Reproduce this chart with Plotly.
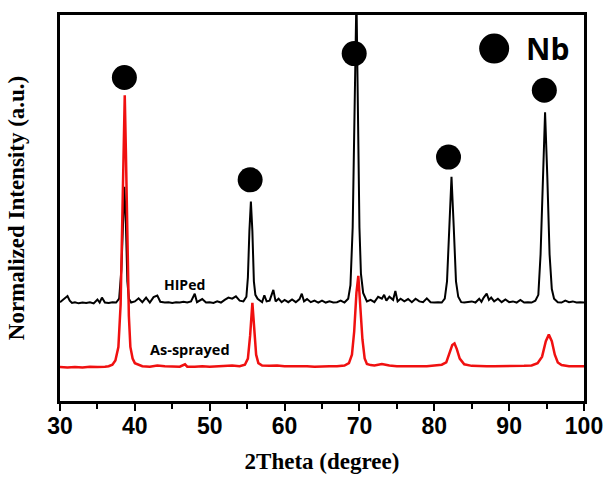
import plotly.graph_objects as go

# HIPed (black) pattern, 2theta and normalized intensity
hip_x = [30.0, 30.5, 31.0, 31.3, 31.6, 32.0, 32.5, 33.0, 33.5, 34.0, 34.5, 35.0, 35.3, 35.6, 36.0, 36.5, 37.0, 37.5, 37.9,
         38.2, 38.4, 38.6, 38.8, 39.0, 39.2, 39.5, 40.0, 40.5, 41.0, 41.5, 42.0, 42.5, 43.0, 43.4, 44.0, 44.5, 45.0,
         45.5, 46.0, 46.5, 47.0, 47.5, 48.0, 48.3, 49.0, 49.5, 50.0, 50.5, 51.0, 51.5, 52.0, 52.5, 53.0, 53.5, 54.0,
         54.5, 54.9, 55.1, 55.3, 55.5, 55.7, 55.9, 56.1, 56.4, 57.0, 57.3, 57.6, 58.0, 58.5, 58.8, 59.2, 59.6, 60.0,
         60.5, 61.0, 61.5, 62.0, 62.3, 62.6, 63.0, 63.5, 64.0, 64.5, 65.0, 65.5, 66.0, 66.5, 67.0, 67.5, 68.0, 68.5,
         68.8, 69.1, 69.3, 69.6, 69.8, 70.0, 70.2, 70.5, 71.0, 71.5, 72.0, 72.5, 73.0, 73.3, 73.6, 74.0, 74.5, 74.8,
         75.1, 75.5, 76.0, 76.5, 77.0, 77.5, 78.0, 78.5, 79.0, 79.5, 80.0, 80.5, 81.0, 81.4, 81.7, 82.0, 82.3, 82.6,
         82.9, 83.2, 83.6, 84.0, 84.5, 85.0, 85.5, 86.0, 86.3, 86.6, 87.0, 87.3, 87.6, 88.0, 88.5, 89.0, 89.5, 90.0,
         90.5, 91.0, 91.5, 92.0, 92.5, 93.0, 93.5, 93.9, 94.2, 94.5, 94.8, 95.1, 95.4, 95.7, 96.0, 96.5, 97.0, 97.5,
         98.0, 98.5, 99.0, 99.5, 100.0]
hip_y = [25.6, 26.5, 27.2, 26.0, 25.4, 25.6, 25.3, 25.5, 25.4, 25.6, 25.3, 26.3, 25.5, 26.8, 25.5, 25.4, 25.6, 25.5, 26.5,
         34.0, 48.0, 55.5, 46.0, 31.0, 26.5, 25.5, 25.8, 26.6, 25.6, 26.8, 25.5, 26.9, 27.3, 25.7, 25.5, 25.6, 25.4,
         25.6, 25.5, 25.7, 25.5, 25.8, 27.8, 25.6, 26.4, 25.5, 25.6, 25.4, 25.8, 25.5, 26.2, 26.8, 26.5, 27.1, 26.0,
         25.8, 27.0, 32.0, 44.0, 51.7, 44.0, 31.0, 27.5, 26.5, 25.6, 27.4, 25.8, 26.0, 28.8, 25.8, 26.5, 25.6, 26.2,
         25.6, 26.3, 25.6, 26.4, 27.8, 25.8, 26.4, 25.6, 26.0, 25.5, 26.0, 25.5, 25.8, 25.5, 25.6, 26.0, 25.5, 26.5,
         30.0, 45.0, 75.0, 105.0, 75.0, 45.0, 33.0, 28.0, 25.8, 26.2, 25.6, 27.0, 26.5, 27.5, 26.0, 27.0, 26.2, 28.5,
         25.8, 26.5, 25.8, 26.4, 25.6, 26.5, 25.8, 25.6, 26.6, 25.6, 25.5, 25.6, 25.5, 26.5, 31.0, 45.0, 58.1, 45.0,
         31.0, 27.0, 25.6, 25.5, 25.6, 25.8, 25.5, 26.5, 25.7, 26.8, 27.8, 26.2, 26.8, 25.8, 26.5, 25.6, 26.3, 25.6,
         25.8, 25.5, 26.2, 25.5, 25.6, 25.5, 26.0, 27.5, 38.0, 60.0, 74.8, 58.0, 38.0, 29.0, 26.5, 25.6, 25.5, 26.0,
         25.6, 25.8, 25.5, 25.6, 25.5]

# As-sprayed (red) pattern
asp_x = [30, 31, 32, 33, 34, 35, 36, 36.5, 37.0, 37.4, 37.8, 38.1, 38.3, 38.5, 38.65, 38.8, 39.0, 39.2, 39.4, 39.7,
         40.0, 40.5, 41, 42, 43, 44, 45, 46, 46.7, 47, 48, 49, 50, 51, 52, 53, 54, 54.7, 55.1, 55.4, 55.7, 55.95,
         56.2, 56.5, 57, 58, 59, 60, 61, 62, 63, 64, 65, 66, 67, 68, 68.6, 69.0, 69.3, 69.6, 69.85, 70.1, 70.4,
         70.7, 71.0, 71.5, 72, 73, 74, 75, 76, 77, 78, 79, 80, 81, 81.6, 82.1, 82.4, 82.7, 83.0, 83.4, 84, 85, 86,
         87, 88, 89, 90, 91, 92, 93, 93.8, 94.4, 94.9, 95.3, 95.7, 96.1, 96.5, 97, 98, 99, 100]
asp_y = [8.8, 8.7, 8.8, 8.7, 8.9, 8.8, 8.9, 9.0, 9.4, 10.5, 14.0, 25.0, 45.0, 70.0, 79.2, 65.0, 40.0, 22.0, 14.0, 11.0,
         9.8, 9.3, 9.0, 8.9, 9.2, 9.0, 8.9, 8.9, 9.5, 8.9, 8.9, 9.0, 8.9, 9.0, 9.1, 9.2, 9.0, 9.4, 11.0, 17.0, 25.4, 18.0,
         12.0, 9.8, 9.2, 9.1, 9.2, 9.0, 9.0, 9.1, 9.0, 8.9, 9.0, 9.0, 9.0, 9.2, 9.8, 12.0, 18.0, 28.0, 32.4, 26.0, 16.0,
         11.0, 9.6, 9.3, 9.2, 9.6, 9.2, 9.0, 9.0, 9.0, 9.1, 9.0, 9.2, 9.4, 10.0, 12.5, 14.5, 14.9, 13.5, 11.0, 9.5, 9.1, 9.0,
         9.0, 9.0, 9.0, 9.0, 9.0, 9.1, 9.2, 9.8, 11.5, 15.5, 17.2, 15.5, 12.0, 10.0, 9.3, 9.0, 9.0, 9.0]

# Nb peak markers
nb_x = [38.6, 55.4, 69.3, 81.9, 94.7]
nb_y = [83.8, 57.3, 90.0, 63.2, 80.5]

x_ticks = [30, 40, 50, 60, 70, 80, 90, 100]

fig = go.Figure()
fig.add_trace(go.Scatter(x=hip_x, y=hip_y, mode="lines", line=dict(color="black", width=2), showlegend=False))
fig.add_trace(go.Scatter(x=asp_x, y=asp_y, mode="lines", line=dict(color="#f01010", width=2.5), showlegend=False))
fig.add_trace(go.Scatter(x=nb_x, y=nb_y, mode="markers", marker=dict(color="black", size=25), showlegend=False))
fig.add_trace(go.Scatter(x=[88.0], y=[91.3], mode="markers", marker=dict(color="black", size=30),
                         showlegend=False, cliponaxis=False))

fig.add_annotation(x=95.1, y=91.3, text="<b>Nb</b>", showarrow=False,
                   font=dict(family="Open Sans", size=30, color="black"))
fig.add_annotation(x=46.6, y=30.3, text="<b>HIPed</b>", showarrow=False,
                   font=dict(family="Open Sans", size=14, color="black"))
fig.add_annotation(x=47.3, y=13.4, text="<b>As-sprayed</b>", showarrow=False,
                   font=dict(family="Open Sans", size=14.5, color="black"))

fig.update_layout(
    width=615, height=486,
    margin=dict(l=60, r=28, t=12, b=85),
    plot_bgcolor="white", paper_bgcolor="white",
)
fig.update_xaxes(
    range=[30, 100], tickvals=x_ticks, ticktext=[str(v) for v in x_ticks],
    showline=True, linecolor="black", linewidth=3, mirror=True,
    ticks="outside", ticklen=7, tickwidth=2, tickcolor="black", ticklabelstandoff=-5,
    minor=dict(ticks="outside", dtick=5, ticklen=5, tickwidth=2, tickcolor="black"),
    showgrid=False, zeroline=False,
    tickfont=dict(family="Liberation Sans", size=23, color="black", weight="bold"),
    title=dict(text="<b>2Theta (degree)</b>", font=dict(family="Liberation Serif", size=23, color="black"),
               standoff=16),
)
fig.update_yaxes(
    range=[0, 100], showticklabels=False, ticks="",
    showline=True, linecolor="black", linewidth=3, mirror=True,
    showgrid=False, zeroline=False,
    title=dict(text="<b>Normalized Intensity (a.u.)</b>",
               font=dict(family="Liberation Serif", size=23, color="black"), standoff=26),
)

fig.write_html("out.html")
